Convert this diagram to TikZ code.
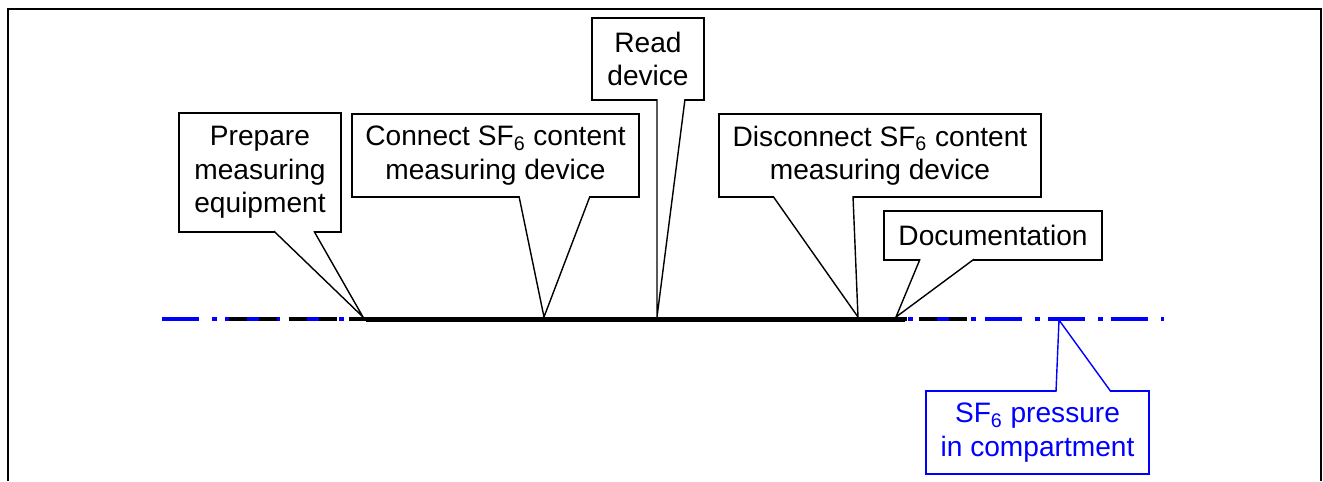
\documentclass[tikz,border=0pt]{standalone}
\usepackage{fontspec}
\setmainfont{Liberation Sans}
\usetikzlibrary{calc}

\definecolor{sfblue}{RGB}{0,0,255}

\begin{document}
\begin{tikzpicture}[x=0.02cm,y=-0.02cm,
    box/.style={draw,line width=0.8pt,fill=white,align=center,inner sep=2pt,
      font=\fontsize{16}{19}\selectfont},
    wedge/.style={draw,line width=0.8pt,fill=white,line join=miter},
    bluebox/.style={box,draw=sfblue,text=sfblue},
    bluewedge/.style={wedge,draw=sfblue}]
    \useasboundingbox (0,0) rectangle (1323,481);
    \draw[line width=0.04cm] (8,481) -- (8,9) -- (1321,9) -- (1321,481);

    % points on the time line
    \coordinate (tprep) at (363,317);
    \coordinate (tconn) at (544,317);
    \coordinate (tread) at (657,317);
    \coordinate (tdisc) at (858,317);
    \coordinate (tdocu) at (896,317);
    \coordinate (tsfp) at (1059,320);

    % callouts
    \node[box,minimum width=3.24cm,minimum height=2.38cm] (prep) at (260,172.5) {Prepare\\measuring\\equipment};
    \node[box,minimum width=5.74cm,minimum height=1.66cm] (conn) at (495.5,155.5) {Connect SF\textsubscript{6} content\\measuring device};
    \node[box,minimum width=2.24cm,minimum height=1.64cm] (read) at (648,59) {Read\\device};
    \node[box,minimum width=6.44cm,minimum height=1.66cm] (disc) at (880,155.5) {Disconnect SF\textsubscript{6} content\\measuring device};
    \node[box,minimum width=4.36cm,minimum height=0.98cm] (docu) at (993,235.5) {Documentation};
    \node[bluebox,minimum width=4.46cm,minimum height=1.66cm] (sfp) at (1037.5,432.5) {SF\textsubscript{6} pressure\\in compartment};

    \filldraw[wedge] ($(274,0 |- prep.south)+(0,-1.5)$) -- (tprep) -- ($(314,0 |- prep.south)+(0,-1.5)$);
    \filldraw[wedge] ($(519,0 |- conn.south)+(0,-1.5)$) -- (tconn) -- ($(590,0 |- conn.south)+(0,-1.5)$);
    \filldraw[wedge] ($(657,0 |- read.south)+(0,-1.5)$) -- (tread) -- ($(685,0 |- read.south)+(0,-1.5)$);
    \filldraw[wedge] ($(773,0 |- disc.south)+(0,-1.5)$) -- (tdisc) -- ($(853,0 |- disc.south)+(0,-1.5)$);
    \filldraw[wedge] ($(920,0 |- docu.south)+(0,-1.5)$) -- (tdocu) -- ($(974,0 |- docu.south)+(0,-1.5)$);
    \filldraw[bluewedge] ($(1056,0 |- sfp.north)+(0,1.5)$) -- (tsfp) -- ($(1111,0 |- sfp.north)+(0,1.5)$);

    % time line: pressure (blue), then the work span on top
    \draw[sfblue,line width=0.09cm,dash pattern=on 0.74cm off 0.26cm on 0.1cm off 0.166cm] (162,319) -- (1164,319);
    \draw[line width=0.09cm,dash pattern=on 0.36cm off 0.24cm] (229,319) -- (975,319);
    \draw[line width=0.1cm] (366,319) -- (905,319);
\end{tikzpicture}
\end{document}
